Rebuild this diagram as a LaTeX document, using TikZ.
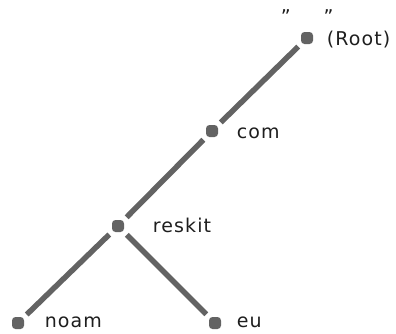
\documentclass[tikz,border=0pt]{standalone}
\usepackage{fontspec}
\setmainfont{DejaVu Sans}[LetterSpace=6]
\definecolor{treegray}{HTML}{636363}
\definecolor{textgray}{HTML}{1E1E1E}
\begin{document}
\begin{tikzpicture}[
    x=1pt, y=-1pt,
    line width=5.5pt,
    dot/.style={rectangle, rounded corners=3.5pt, fill=treegray, minimum size=12pt, inner sep=0pt},
    lbl/.style={anchor=base west, inner sep=0pt, text=textgray, font=\fontsize{19}{22}\selectfont}
]
  \useasboundingbox (0,0) rectangle (396,333);

  % nodes
  \node[dot] (root)   at (307,38)  {};
  \node[dot] (com)    at (212,131) {};
  \node[dot] (reskit) at (118,226) {};
  \node[dot] (noam)   at (18,323)  {};
  \node[dot] (eu)     at (215,323) {};

  % labels
  \node[lbl] (rootq)   at (278,23)  {"\hspace{33pt}"};
  \node[lbl] (rootlbl) at (324,45)  {(Root)};
  \node[lbl] (comlbl)  at (234,138) {com};
  \node[lbl] (reslbl)  at (150,232) {reskit};
  \node[lbl] (noamlbl) at (42,327)  {noam};
  \node[lbl] (eulbl)   at (234,327) {eu};

  % edges
  \draw[treegray] (root) -- (com);
  \draw[treegray] (com) -- (reskit);
  \draw[treegray] (reskit) -- (noam);
  \draw[treegray] (reskit) -- (eu);
\end{tikzpicture}
\end{document}
